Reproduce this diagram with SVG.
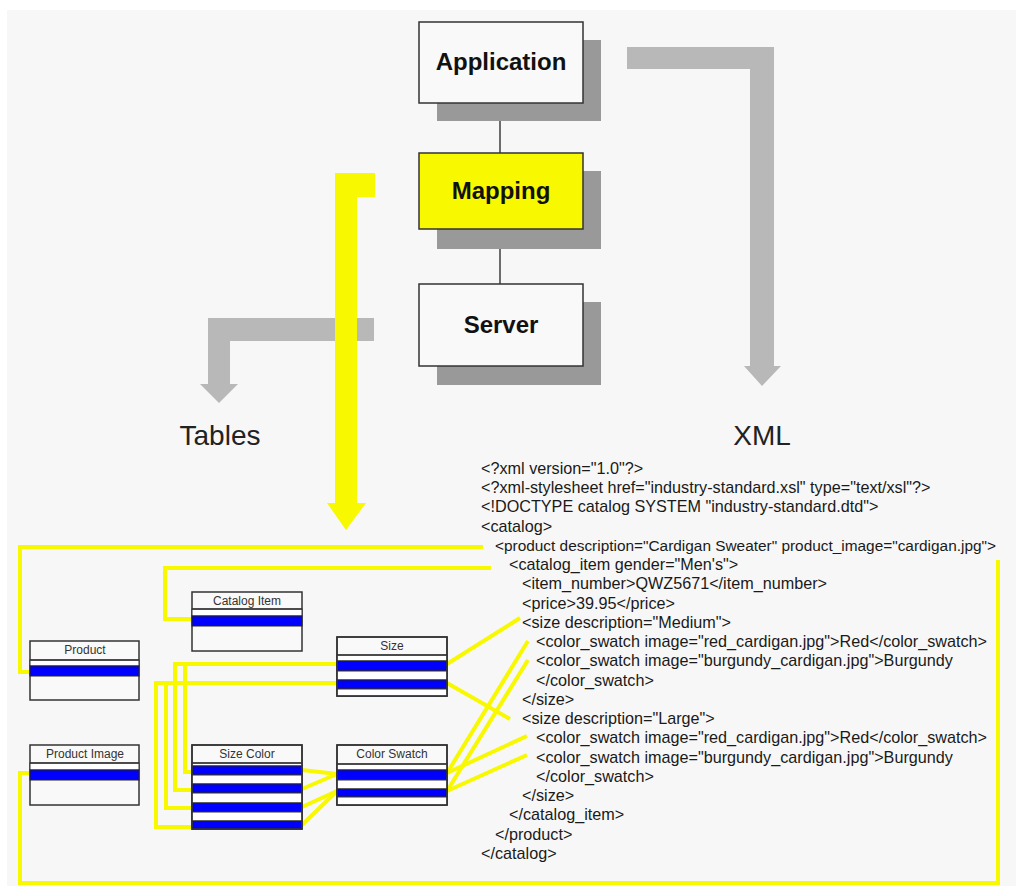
<svg xmlns="http://www.w3.org/2000/svg" width="1016" height="886" viewBox="0 0 1016 886">
  <style>
    .panel { fill: #f7f7f7; }
    .shadow { fill: #999999; }
    .box { fill: #f9f9f9; stroke: #333333; stroke-width: 1.5; }
    .box-hi { fill: #f8f800; stroke: #333333; stroke-width: 1.5; }
    .boxlabel { font-family: "Liberation Sans", Arial, sans-serif; font-size: 24px; font-weight: bold; fill: #111111; text-anchor: middle; }
    .link { stroke: #222222; stroke-width: 1.3; fill: none; }
    .flow { fill: #b8b8b8; }
    .flow-hi { fill: #f8f800; }
    .biglabel { font-family: "Liberation Sans", Arial, sans-serif; font-size: 28px; fill: #222222; text-anchor: middle; }
    .tbl { fill: #f9f9f9; stroke: #333333; stroke-width: 1.5; }
    .hdr { stroke: #333333; stroke-width: 1.5; }
    .white { fill: #ffffff; stroke: #333333; stroke-width: 1; }
    .blue { fill: #0000ff; stroke: #222222; stroke-width: 1; }
    .tbltitle { font-family: "Liberation Sans", Arial, sans-serif; font-size: 12px; fill: #333333; text-anchor: middle; }
    .wire { stroke: #f8f800; stroke-width: 4; fill: none; stroke-linejoin: miter; }
    .xml { font-family: "Liberation Sans", Arial, sans-serif; font-size: 16.2px; fill: #1a1a1a; }
    .xml-long { font-size: 15.4px; }
  </style>

  <rect x="0" y="0" width="1016" height="886" fill="#ffffff"/>
  <rect class="panel" x="7" y="10" width="1009" height="876"/>

  <!-- flow arrows -->
  <g id="flow-arrows">
    <polygon class="flow" points="627,47 774,47 774,366 781,366 762,386 744,366 750,366 750,69 627,69"/>
    <polygon class="flow" points="374,318 208,318 208,384 200,384 219,403 238,384 230,384 230,341 374,341"/>
    <polygon class="flow-hi" points="335,173 375,173 375,197 357,197 357,503 366,503 346,530 327,503 335,503"/>
  </g>

  <text class="biglabel" x="220" y="445">Tables</text>
  <text class="biglabel" x="762" y="445">XML</text>

  <!-- stack connectors -->
  <g id="stack-links">
    <line class="link" x1="500" y1="103" x2="500" y2="153"/>
    <line class="link" x1="500" y1="229" x2="500" y2="284"/>
  </g>

  <g id="application">
    <rect class="shadow" x="437" y="40" width="164" height="81"/>
    <rect class="box" x="419" y="22" width="164" height="81"/>
    <text class="boxlabel" x="501" y="70">Application</text>
  </g>
  <g id="mapping">
    <rect class="shadow" x="437" y="171" width="164" height="78"/>
    <rect class="box-hi" x="419" y="153" width="164" height="76"/>
    <text class="boxlabel" x="501" y="199">Mapping</text>
  </g>
  <g id="server">
    <rect class="shadow" x="437" y="302" width="164" height="83"/>
    <rect class="box" x="419" y="284" width="164" height="82"/>
    <text class="boxlabel" x="501" y="333">Server</text>
  </g>

  <!-- mapping wires between tables and XML -->
  <g id="wires">
    <polyline class="wire" points="483,547 20,547 20,672 30,672"/>
    <polyline class="wire" points="491,568 165,568 165,619 192,619"/>
    <polyline class="wire" points="30,773 20,773 20,883 998,883 998,560"/>
    <polyline class="wire" points="337,664 175,664 175,790 192,790"/>
    <polyline class="wire" points="185,664 185,772 192,772"/>
    <polyline class="wire" points="337,683 156,683 156,827 192,827"/>
    <polyline class="wire" points="166,683 166,808 192,808"/>
    <line class="wire" x1="302" y1="770" x2="337" y2="774"/>
    <line class="wire" x1="302" y1="789" x2="337" y2="774"/>
    <line class="wire" x1="302" y1="807" x2="337" y2="791"/>
    <line class="wire" x1="302" y1="825" x2="337" y2="791"/>
    <line class="wire" x1="447" y1="664" x2="520" y2="618"/>
    <line class="wire" x1="447" y1="683" x2="510" y2="719"/>
    <line class="wire" x1="447" y1="773" x2="528" y2="641"/>
    <line class="wire" x1="447" y1="791" x2="528" y2="660"/>
    <line class="wire" x1="447" y1="773" x2="527" y2="736"/>
    <line class="wire" x1="447" y1="791" x2="527" y2="755"/>
  </g>

  <!-- relational tables -->
  <g id="product">
    <rect class="tbl" x="30" y="641" width="109" height="59"/>
    <rect class="white" x="30" y="660" width="109" height="6"/>
    <rect class="blue" x="30" y="666" width="109" height="10"/>
    <line class="hdr" x1="30" y1="660" x2="139" y2="660"/>
    <text class="tbltitle" x="85" y="654">Product</text>
  </g>
  <g id="catalog-item">
    <rect class="tbl" x="192" y="592" width="110" height="59"/>
    <rect class="white" x="192" y="609" width="110" height="7"/>
    <rect class="blue" x="192" y="616" width="110" height="10"/>
    <line class="hdr" x1="192" y1="609" x2="302" y2="609"/>
    <text class="tbltitle" x="247" y="605">Catalog Item</text>
  </g>
  <g id="size">
    <rect class="tbl" x="337" y="637" width="110" height="59"/>
    <rect class="white" x="337" y="655" width="110" height="6"/>
    <rect class="blue" x="337" y="661" width="110" height="10"/>
    <rect class="white" x="337" y="671" width="110" height="9"/>
    <rect class="blue" x="337" y="680" width="110" height="9"/>
    <rect class="white" x="337" y="689" width="110" height="7"/>
    <line class="hdr" x1="337" y1="655" x2="447" y2="655"/>
    <rect x="337" y="637" width="110" height="59" fill="none" stroke="#333333" stroke-width="1.5"/>
    <text class="tbltitle" x="392" y="650">Size</text>
  </g>
  <g id="product-image">
    <rect class="tbl" x="30" y="745" width="109" height="60"/>
    <rect class="white" x="30" y="763" width="109" height="7"/>
    <rect class="blue" x="30" y="770" width="109" height="10"/>
    <line class="hdr" x1="30" y1="763" x2="139" y2="763"/>
    <text class="tbltitle" x="85" y="758">Product Image</text>
  </g>
  <g id="size-color">
    <rect class="tbl" x="192" y="745" width="110" height="84"/>
    <rect class="white" x="192" y="763" width="110" height="3"/>
    <rect class="blue" x="192" y="766" width="110" height="9"/>
    <rect class="white" x="192" y="775" width="110" height="9"/>
    <rect class="blue" x="192" y="784" width="110" height="9"/>
    <rect class="white" x="192" y="793" width="110" height="10"/>
    <rect class="blue" x="192" y="803" width="110" height="9"/>
    <rect class="white" x="192" y="812" width="110" height="9"/>
    <rect class="blue" x="192" y="821" width="110" height="8"/>
    <line class="hdr" x1="192" y1="763" x2="302" y2="763"/>
    <rect x="192" y="745" width="110" height="84" fill="none" stroke="#333333" stroke-width="1.5"/>
    <text class="tbltitle" x="247" y="758">Size Color</text>
  </g>
  <g id="color-swatch">
    <rect class="tbl" x="337" y="745" width="110" height="60"/>
    <rect class="white" x="337" y="764" width="110" height="6"/>
    <rect class="blue" x="337" y="770" width="110" height="10"/>
    <rect class="white" x="337" y="780" width="110" height="9"/>
    <rect class="blue" x="337" y="789" width="110" height="8"/>
    <rect class="white" x="337" y="797" width="110" height="8"/>
    <line class="hdr" x1="337" y1="764" x2="447" y2="764"/>
    <rect x="337" y="745" width="110" height="60" fill="none" stroke="#333333" stroke-width="1.5"/>
    <text class="tbltitle" x="392" y="758">Color Swatch</text>
  </g>

  <!-- XML document listing -->
  <g id="xml-document" class="xml">
    <text x="481" y="474">&lt;?xml version="1.0"?&gt;</text>
    <text x="481" y="493">&lt;?xml-stylesheet href="industry-standard.xsl" type="text/xsl"?&gt;</text>
    <text x="481" y="512">&lt;!DOCTYPE catalog SYSTEM "industry-standard.dtd"&gt;</text>
    <text x="481" y="532">&lt;catalog&gt;</text>
    <text class="xml-long" x="495" y="551">&lt;product description="Cardigan Sweater" product_image="cardigan.jpg"&gt;</text>
    <text x="509" y="570">&lt;catalog_item gender="Men's"&gt;</text>
    <text x="522" y="589">&lt;item_number&gt;QWZ5671&lt;/item_number&gt;</text>
    <text x="522" y="609">&lt;price&gt;39.95&lt;/price&gt;</text>
    <text x="522" y="628">&lt;size description="Medium"&gt;</text>
    <text x="536" y="647">&lt;color_swatch image="red_cardigan.jpg"&gt;Red&lt;/color_swatch&gt;</text>
    <text x="536" y="666">&lt;color_swatch image="burgundy_cardigan.jpg"&gt;Burgundy</text>
    <text x="536" y="686">&lt;/color_swatch&gt;</text>
    <text x="522" y="705">&lt;/size&gt;</text>
    <text x="522" y="724">&lt;size description="Large"&gt;</text>
    <text x="536" y="743">&lt;color_swatch image="red_cardigan.jpg"&gt;Red&lt;/color_swatch&gt;</text>
    <text x="536" y="763">&lt;color_swatch image="burgundy_cardigan.jpg"&gt;Burgundy</text>
    <text x="536" y="782">&lt;/color_swatch&gt;</text>
    <text x="522" y="801">&lt;/size&gt;</text>
    <text x="509" y="820">&lt;/catalog_item&gt;</text>
    <text x="495" y="840">&lt;/product&gt;</text>
    <text x="481" y="859">&lt;/catalog&gt;</text>
  </g>
</svg>
